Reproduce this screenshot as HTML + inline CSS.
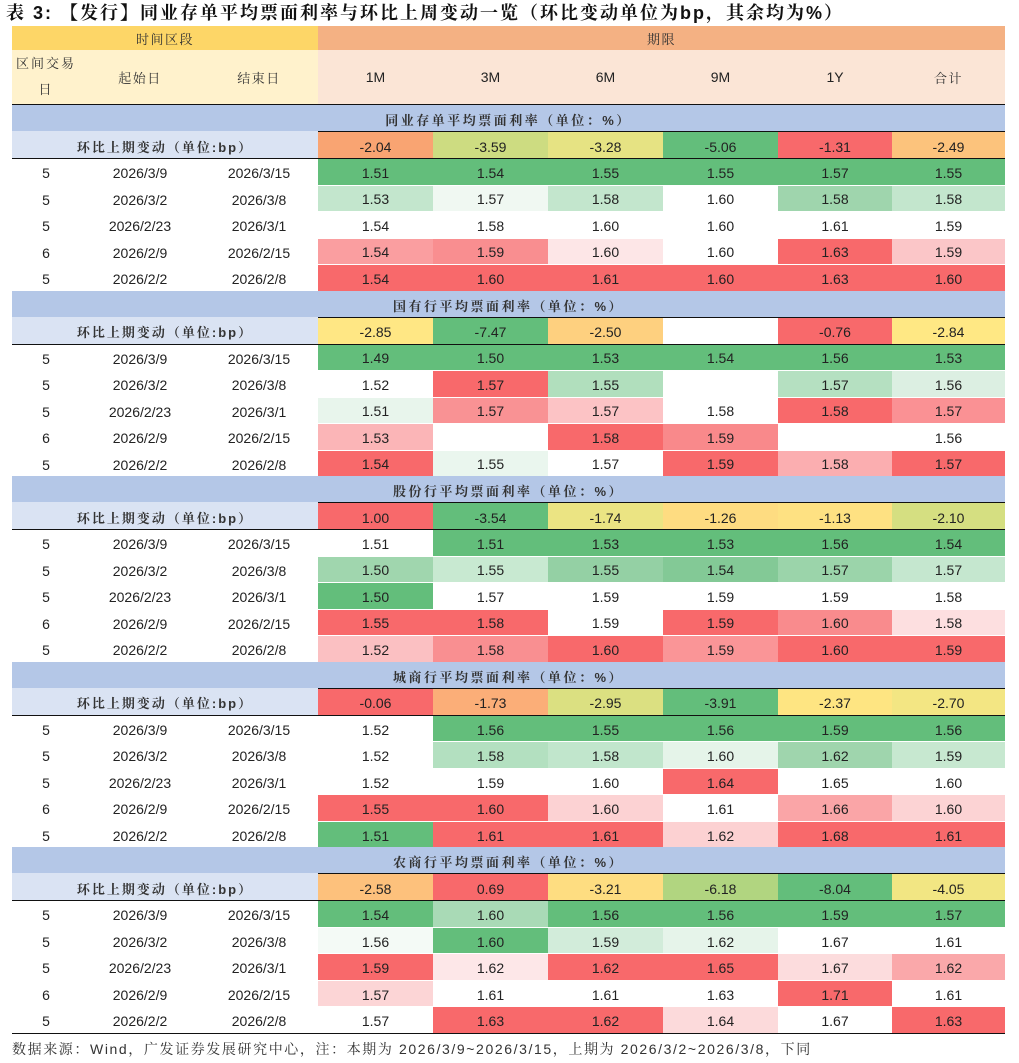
<!DOCTYPE html>
<html><head><meta charset="utf-8">
<style>
body{margin:0;background:#fff;width:1019px;height:1063px;position:relative;overflow:hidden;font-family:"Liberation Sans","Noto Sans CJK SC",sans-serif;color:#222}
.c{position:absolute;display:flex;align-items:center;justify-content:center;box-sizing:border-box;font-size:14px;white-space:nowrap}
.cn{font-family:"Liberation Sans","Noto Serif CJK SC",serif;font-size:13px;color:#333;letter-spacing:1.5px}
.ln{position:absolute;left:12px;width:993px;height:1px;background:#111}
</style></head><body>
<div class="c" style="left:6px;top:0;height:24px;justify-content:flex-start;font-size:18px;letter-spacing:2px;font-weight:bold;font-family:'Liberation Sans','Noto Serif CJK SC',serif;color:#111">表 3: 【发行】同业存单平均票面利率与环比上周变动一览（环比变动单位为bp，其余均为%）</div>
<div class="c cn" style="left:12px;top:26px;width:306px;height:24px;background:#fdd667">时间区段</div>
<div class="c cn" style="left:318px;top:26px;width:687px;height:24px;background:#f4b183">期限</div>
<div class="c cn" style="left:12px;top:50px;width:68px;height:54px;background:#fff2cc;white-space:normal;text-align:center;line-height:26px;padding:0 2px;letter-spacing:2px">区间交易日</div>
<div class="c cn" style="left:80px;top:50px;width:120px;height:54px;background:#fff2cc">起始日</div>
<div class="c cn" style="left:200px;top:50px;width:118px;height:54px;background:#fff2cc">结束日</div>
<div id="tbl"></div>
<div class="c cn" style="left:12px;top:1038px;height:22px;justify-content:flex-start;font-size:14px;letter-spacing:1.6px">数据来源：Wind，广发证券发展研究中心，注：本期为 2026/3/9~2026/3/15，上期为 2026/3/2~2026/3/8，下同</div>
<script>
const terms=["1M","3M","6M","9M","1Y","合计"];
const sections=["同业存单平均票面利率（单位：%）","国有行平均票面利率（单位：%）","股份行平均票面利率（单位：%）","城商行平均票面利率（单位：%）","农商行平均票面利率（单位：%）"];
const days=["5","5","5","6","5"];
const starts=["2026/3/9","2026/3/2","2026/2/23","2026/2/9","2026/2/2"];
const ends=["2026/3/15","2026/3/8","2026/3/1","2026/2/15","2026/2/8"];
const changes=[["-2.04","-3.59","-3.28","-5.06","-1.31","-2.49"],["-2.85","-7.47","-2.50","","-0.76","-2.84"],["1.00","-3.54","-1.74","-1.26","-1.13","-2.10"],["-0.06","-1.73","-2.95","-3.91","-2.37","-2.70"],["-2.58","0.69","-3.21","-6.18","-8.04","-4.05"]];
const changeColors=[["#f9a472","#cddc81","#e6e383","#63be7b","#f8696b","#fcc37c"],["#ffe784","#63be7b","#fed07f","#ffffff","#f8696b","#ffe884"],["#f8696b","#63be7b","#ebe483","#fedc81","#fee182","#d5df81"],["#f8696b","#fbae78","#dbe081","#63be7b","#fee582","#f3e683"],["#fdc17c","#f8696b","#fedd81","#b1d580","#63be7b","#f2e683"]];
const rates=[
[["1.51","1.54","1.55","1.55","1.57","1.55"],["1.53","1.57","1.58","1.60","1.58","1.58"],["1.54","1.58","1.60","1.60","1.61","1.59"],["1.54","1.59","1.60","1.60","1.63","1.59"],["1.54","1.60","1.61","1.60","1.63","1.60"]],
[["1.49","1.50","1.53","1.54","1.56","1.53"],["1.52","1.57","1.55","","1.57","1.56"],["1.51","1.57","1.57","1.58","1.58","1.57"],["1.53","","1.58","1.59","","1.56"],["1.54","1.55","1.57","1.59","1.58","1.57"]],
[["1.51","1.51","1.53","1.53","1.56","1.54"],["1.50","1.55","1.55","1.54","1.57","1.57"],["1.50","1.57","1.59","1.59","1.59","1.58"],["1.55","1.58","1.59","1.59","1.60","1.58"],["1.52","1.58","1.60","1.59","1.60","1.59"]],
[["1.52","1.56","1.55","1.56","1.59","1.56"],["1.52","1.58","1.58","1.60","1.62","1.59"],["1.52","1.59","1.60","1.64","1.65","1.60"],["1.55","1.60","1.60","1.61","1.66","1.60"],["1.51","1.61","1.61","1.62","1.68","1.61"]],
[["1.54","1.60","1.56","1.56","1.59","1.57"],["1.56","1.60","1.59","1.62","1.67","1.61"],["1.59","1.62","1.62","1.65","1.67","1.62"],["1.57","1.61","1.61","1.63","1.71","1.61"],["1.57","1.63","1.62","1.64","1.67","1.63"]]];
const G3="#63be7b",R3="#f8696b",W="#ffffff";
const rateColors=[
[[G3,G3,G3,G3,G3,G3],["#c3e6cd","#f0f8f2","#c3e6cd",W,"#9fd5ad","#c3e6cd"],[W,W,W,W,W,W],["#fa9ea0","#f98e90","#fde6e7",W,R3,"#fbc6c8"],[R3,R3,R3,R3,R3,R3]],
[[G3,G3,G3,G3,G3,G3],[W,R3,"#b1dfbd",W,"#b5e0c1","#dcefe2"],["#e8f5ec","#f99294","#fcc3c5",W,R3,"#fa9194"],["#fbb5b7",W,R3,"#f9898b",W,W],[R3,"#eaf6ee",W,R3,"#fbaeb0",R3]],
[[W,G3,G3,G3,G3,G3],["#a0d6ae","#c8e9d1","#94d0a4","#83c996","#9bd4aa","#c5e7cf"],[G3,W,W,W,W,W],[R3,R3,W,R3,"#f98b8d","#fddfe0"],["#fbc0c2","#f98f91",R3,"#fa9597",R3,R3]],
[[W,G3,G3,G3,G3,G3],[W,"#b3e0c0","#c1e6cc","#e5f4e9","#9fd5ad","#c7e8d0"],[W,W,W,R3,W,W],[R3,R3,"#fcd2d3",W,"#faa5a7","#fcd3d4"],[G3,R3,R3,"#fcd1d2",R3,R3]],
[[G3,"#a9dab6",G3,G3,G3,G3],["#f4faf6",G3,"#d2ecda","#e6f4ea",W,W],[R3,"#fde7e8",R3,R3,"#fcdcdd","#faa8aa"],["#fcd5d6",W,W,W,R3,W],[W,R3,R3,"#fcdadb",W,R3]]];

const colX=[318,433,548,663,778,892,1005];
const tbl=document.getElementById('tbl');
function cell(x,y,w,h,txt,bg,cls){const d=document.createElement('div');d.className='c'+(cls?' '+cls:'');d.style.cssText=`left:${x}px;top:${y}px;width:${w}px;height:${h}px;background:${bg}`;d.textContent=txt;tbl.appendChild(d);return d;}
function line(y){const l=document.createElement('div');l.className='ln';l.style.top=y+'px';


tbl.appendChild(l);}
terms.forEach((t,i)=>{const d=cell(colX[i],50,colX[i+1]-colX[i],54,t,'#fbe5d6','');if(i===5)d.classList.add('cn');

});
line(104);
for(let s=0;s<5;s++){
 const top=105+s*185.6;
 const h=cell(12,top,993,26,sections[s],'#b4c7e7','cn');
 h.style.fontWeight='bold';
 h.style.letterSpacing='2.5px';
 h.style.paddingTop='3px';
 
 
 line(Math.round(top+26));
 const lab=cell(12,top+26,306,27,'环比上期变动（单位:bp）','#dae3f3','cn');
 lab.style.fontWeight='bold';
 lab.style.letterSpacing='2px';
 lab.style.paddingTop='3px';
 
 
 for(let k=0;k<6;k++){const d=cell(colX[k],top+27,colX[k+1]-colX[k],26,changes[s][k],changeColors[s][k],'');
 d.style.paddingTop='3px';
 
 }
 line(Math.round(top+53));
 for(let r=0;r<5;r++){
  const y=top+54+r*26.5;
  const a=cell(12,y,68,26,days[r],W,'');
  a.style.paddingTop='2px';
  
  
  const b=cell(80,y,120,26,starts[r],W,'');
  b.style.paddingTop='2px';
  
  
  const e=cell(200,y,118,26,ends[r],W,'');
  e.style.paddingTop='2px';
  
  
  for(let k=0;k<6;k++){const d=cell(colX[k],y,colX[k+1]-colX[k],25.5,rates[s][r][k],rateColors[s][r][k],'');
  d.style.paddingTop='2px';
  
  }
 }
 line(Math.round(top+185.6));
}
</script>
</body></html>
